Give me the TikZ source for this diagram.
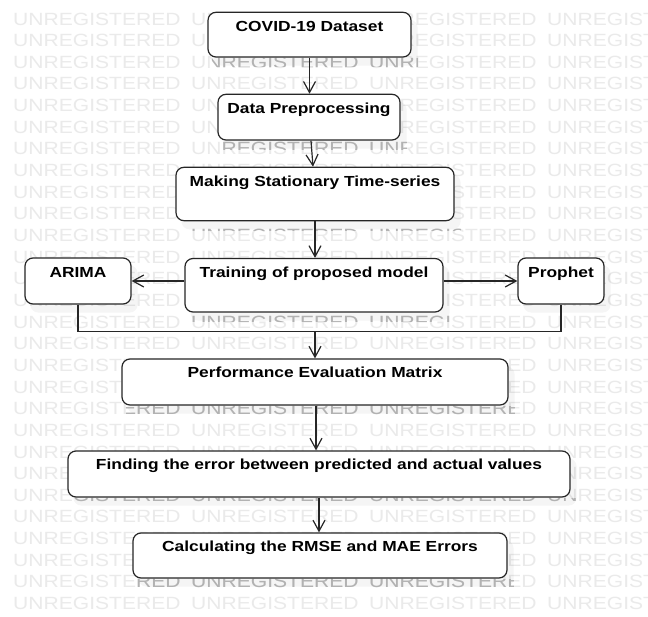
\documentclass[tikz,border=0pt]{standalone}
\usepackage{fontspec}
\usetikzlibrary{arrows.meta}
\newfontfamily\wmfont{Liberation Sans}[FakeStretch=1.19]
\newfontfamily\boxfont{Liberation Sans}[FakeStretch=1.19]

\definecolor{wmlight}{HTML}{EAEAEA}
\definecolor{wmdark}{HTML}{B2B2B2}
\definecolor{edge}{HTML}{262626}

\pgfdeclarelayer{bg}
\pgfsetlayers{bg,main}

% repeated background stamp, four words per row
\newcommand\stampgrid[1]{%
  \foreach \k in {0,...,27}{%
    \foreach \j in {0,...,3}{%
      \node[stamp, text=#1] at ({13+178*\j},{25+21.65*\k}) {UNREGISTERED};
    }%
  }}

\tikzset{
  stamp/.style={anchor=base west, inner sep=0pt,
    font=\wmfont\fontsize{17.7}{18}\selectfont},
  box/.style={draw=edge, line width=1.2pt, fill=white,
    rounded corners=8pt, inner sep=0pt},
  lbl/.style={anchor=base, inner sep=0pt,
    font=\boxfont\bfseries\fontsize{14.6}{17}\selectfont},
  arr/.style={draw=edge, line width=1.2pt,
    -{Straight Barb[length=11pt,width=12pt]}},
  link/.style={draw=edge, line width=1.2pt},
  boxshadow/.style={fill=black, opacity=0.04, rounded corners=8pt}
}

\begin{document}
\begin{tikzpicture}[x=1pt,y=-1pt]
\useasboundingbox (0,0) rectangle (648,616);

% process boxes
\node[box, minimum width=203pt, minimum height=44.7pt] (covid) at (309.5,34.65) {};
\node[lbl] (covidt) at ([yshift=-19.5pt]covid.north) {COVID-19 Dataset};

\node[box, minimum width=182pt, minimum height=45.7pt] (dp) at (309,117.15) {};
\node[lbl] (dpt) at ([yshift=-19.5pt]dp.north) {Data Preprocessing};

\node[box, minimum width=278pt, minimum height=53.4pt] (ms) at (315,194) {};
\node[lbl] (mst) at ([yshift=-19.5pt]ms.north) {Making Stationary Time-series};

\node[box, minimum width=258pt, minimum height=53.5pt] (train) at (314,285.25) {};
\node[lbl] (traint) at ([yshift=-19.5pt]train.north) {Training of proposed model};

\node[box, minimum width=106pt, minimum height=46pt] (arima) at (78,281) {};
\node[lbl] (arimat) at ([yshift=-20pt]arima.north) {ARIMA};

\node[box, minimum width=86pt, minimum height=46pt] (prophet) at (561,281) {};
\node[lbl] (prophett) at ([yshift=-20pt]prophet.north) {Prophet};

\node[box, minimum width=386pt, minimum height=46pt] (perf) at (315,382) {};
\node[lbl] (perft) at ([yshift=-19.5pt]perf.north) {Performance Evaluation Matrix};

\node[box, minimum width=502pt, minimum height=46pt] (finding) at (319,474) {};
\node[lbl] (findingt) at ([yshift=-19pt]finding.north) {Finding the error between predicted and actual values};

\node[box, minimum width=374pt, minimum height=45pt] (calc) at (320,555.5) {};
\node[lbl] (calct) at ([yshift=-19pt]calc.north) {Calculating the RMSE and MAE Errors};

% connectors
\draw[arr] (covid.south) -- (covid.south |- dp.north);
\draw[arr] ([xshift=2pt]dp.south) -- ([xshift=-2pt]ms.north);
\draw[arr] (ms.south) -- (ms.south |- train.north);
\draw[arr] (train.west |- arima.east) -- (arima.east);
\draw[arr] (train.east |- prophet.west) -- (prophet.west);
\coordinate (join) at (315,331.7);
\draw[link] (arima.south) |- (join) -| (prophet.south);
\draw[arr] (join) -- (join |- perf.north);
\draw[arr] ([xshift=1pt]perf.south) -- ([xshift=1pt]perf.south |- finding.north);
\draw[arr] (finding.south) -- (finding.south |- calc.north);

% stamp pattern and box shadows underneath
\begin{pgfonlayer}{bg}
  \fill[white] (0,0) rectangle (648,616);
  \begin{scope}
    \clip (0,0) rectangle (648,616);
    \stampgrid{wmlight}
  \end{scope}
  \foreach \b in {covid,dp,ms,train,arima,prophet,perf,finding,calc}{
    \fill[boxshadow] ([shift={(6,8)}]\b.north west) rectangle ([shift={(6,8)}]\b.south east);
  }
  \begin{scope}
    \clip
      ([shift={(4,0)}]covid.south west) rectangle ([shift={(6,9)}]covid.south east)
      ([shift={(4,0)}]dp.south west) rectangle ([shift={(6,9)}]dp.south east)
      ([shift={(4,0)}]ms.south west) rectangle ([shift={(6,9)}]ms.south east)
      ([shift={(4,0)}]train.south west) rectangle ([shift={(6,9)}]train.south east)
      ([shift={(4,0)}]perf.south west) rectangle ([shift={(6,9)}]perf.south east)
      ([shift={(4,0)}]finding.south west) rectangle ([shift={(6,9)}]finding.south east)
      ([shift={(4,0)}]calc.south west) rectangle ([shift={(6,9)}]calc.south east);
    \stampgrid{wmdark}
  \end{scope}
\end{pgfonlayer}
\end{tikzpicture}
\end{document}
